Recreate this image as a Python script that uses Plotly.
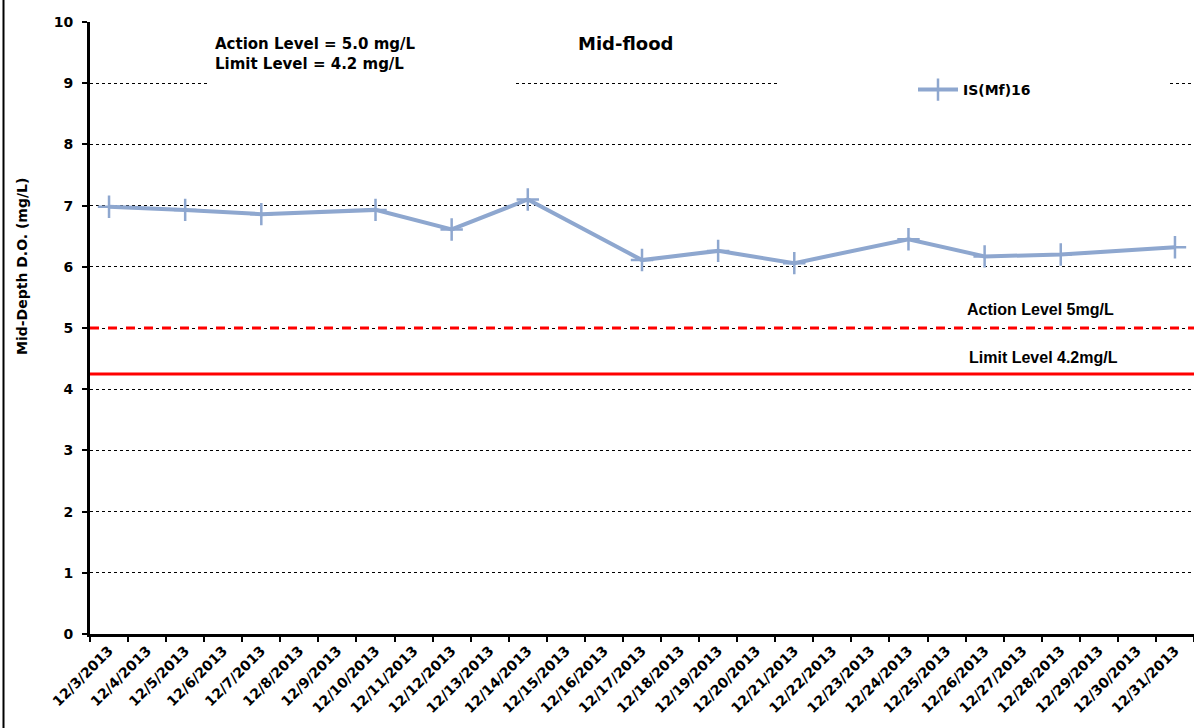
import plotly.graph_objects as go

DATES = ["12/3/2013", "12/4/2013", "12/5/2013", "12/6/2013", "12/7/2013", "12/8/2013",
         "12/9/2013", "12/10/2013", "12/11/2013", "12/12/2013", "12/13/2013", "12/14/2013",
         "12/15/2013", "12/16/2013", "12/17/2013", "12/18/2013", "12/19/2013", "12/20/2013",
         "12/21/2013", "12/22/2013", "12/23/2013", "12/24/2013", "12/25/2013", "12/26/2013",
         "12/27/2013", "12/28/2013", "12/29/2013", "12/30/2013", "12/31/2013"]

SAMPLE_DATES = ["12/3/2013", "12/5/2013", "12/7/2013", "12/10/2013", "12/12/2013", "12/14/2013",
                "12/17/2013", "12/19/2013", "12/21/2013", "12/24/2013", "12/26/2013",
                "12/28/2013", "12/31/2013"]
DO_VALUES = [6.98, 6.93, 6.86, 6.93, 6.61, 7.10, 6.11, 6.26, 6.06, 6.45, 6.17, 6.20, 6.32]

ACTION_LEVEL = 5.0
LIMIT_LEVEL = 4.25
Y_TICKS = list(range(0, 11))

W, H = 1194, 728
L, R, T, B = 90, 0, 22, 94
PW, PH = W - L - R, H - T - B


def px(x):
    return (x - L) / PW


def py(y):
    return (H - B - y) / PH


FONT = "DejaVu Sans, Verdana, sans-serif"
FONT2 = "Liberation Sans, Arial, sans-serif"

fig = go.Figure()
fig.add_trace(go.Scatter(
    x=SAMPLE_DATES, y=DO_VALUES, mode="lines+markers", name="<b>IS(Mf)16</b>",
    line=dict(color="#8EA7CF", width=4),
    marker=dict(symbol="cross-thin", size=16, color="#8EA7CF",
                line=dict(color="#8EA7CF", width=2.5)),
))

shapes = [
    dict(type="line", xref="paper", yref="y", x0=0, x1=1, y0=ACTION_LEVEL, y1=ACTION_LEVEL,
         line=dict(color="#FF0000", width=3, dash="dash"), layer="above"),
    dict(type="line", xref="paper", yref="y", x0=0, x1=1, y0=LIMIT_LEVEL, y1=LIMIT_LEVEL,
         line=dict(color="#FF0000", width=3), layer="above"),
    dict(type="rect", xref="paper", yref="paper", x0=px(207), x1=px(513), y0=py(88), y1=py(30),
         fillcolor="white", line=dict(width=0), layer="above"),
    dict(type="rect", xref="paper", yref="paper", x0=px(778), x1=px(1170), y0=py(118), y1=py(58),
         fillcolor="white", line=dict(width=0), layer="above"),
    dict(type="line", xref="paper", yref="paper", x0=px(3.5), x1=px(3.5), y0=py(H), y1=py(0),
         line=dict(color="black", width=2)),
]

annotations = [
    dict(text="<b>Action Level = 5.0 mg/L<br>Limit Level = 4.2 mg/L</b>", xref="paper", yref="paper",
         x=px(213), y=py(33), xanchor="left", yanchor="top", align="left", showarrow=False,
         font=dict(family=FONT, size=15, color="black")),
    dict(text="<b>Mid-flood</b>", xref="paper", yref="paper", x=px(625), y=py(44),
         xanchor="center", yanchor="middle", showarrow=False,
         font=dict(family=FONT, size=18, color="black")),
    dict(text="<b>Action Level 5mg/L</b>", xref="paper", yref="paper", x=px(1040), y=py(309),
         xanchor="center", yanchor="middle", showarrow=False,
         font=dict(family=FONT2, size=16, color="black")),
    dict(text="<b>Limit Level 4.2mg/L</b>", xref="paper", yref="paper", x=px(1043), y=py(357),
         xanchor="center", yanchor="middle", showarrow=False,
         font=dict(family=FONT2, size=16, color="black")),
    dict(text="<b>Mid-Depth D.O. (mg/L)</b>", xref="paper", yref="paper", x=px(22), y=py(267),
         xanchor="center", yanchor="middle", textangle=-90, showarrow=False,
         font=dict(family=FONT, size=14, color="black")),
]

fig.update_layout(
    width=W, height=H,
    margin=dict(l=L, r=R, t=T, b=B, autoexpand=False),
    paper_bgcolor="white", plot_bgcolor="white",
    font=dict(family=FONT, color="black"),
    showlegend=True,
    legend=dict(x=px(913), y=py(74), xanchor="left", yanchor="top",
                bgcolor="rgba(0,0,0,0)", font=dict(family=FONT, size=14, color="black"),
                itemwidth=40),
    shapes=shapes,
    annotations=annotations,
)

fig.update_xaxes(
    type="category", categoryorder="array", categoryarray=DATES,
    tickvals=DATES, ticktext=["<b>%s</b>" % d for d in DATES],
    range=[-0.5, len(DATES) - 0.5], automargin=False,
    tickson="boundaries", ticks="outside", ticklen=5, tickwidth=2, tickcolor="black",
    tickangle=-45, tickfont=dict(family=FONT, size=14, color="black"),
    showline=True, linecolor="black", linewidth=3, showgrid=False, zeroline=False,
)

fig.update_yaxes(
    range=[0, 10], tickvals=Y_TICKS, ticktext=["<b>%d</b>" % v for v in Y_TICKS],
    automargin=False, ticklabelstandoff=6,
    ticks="outside", ticklen=5, tickwidth=2, tickcolor="black",
    tickfont=dict(family=FONT, size=14, color="black"),
    showline=True, linecolor="black", linewidth=3,
    showgrid=True, gridcolor="black", gridwidth=1, griddash="dot", zeroline=False,
)

fig.write_html("out.html", config={"displayModeBar": False},
               post_script="document.body.style.margin='0px';document.body.style.padding='0px';")
